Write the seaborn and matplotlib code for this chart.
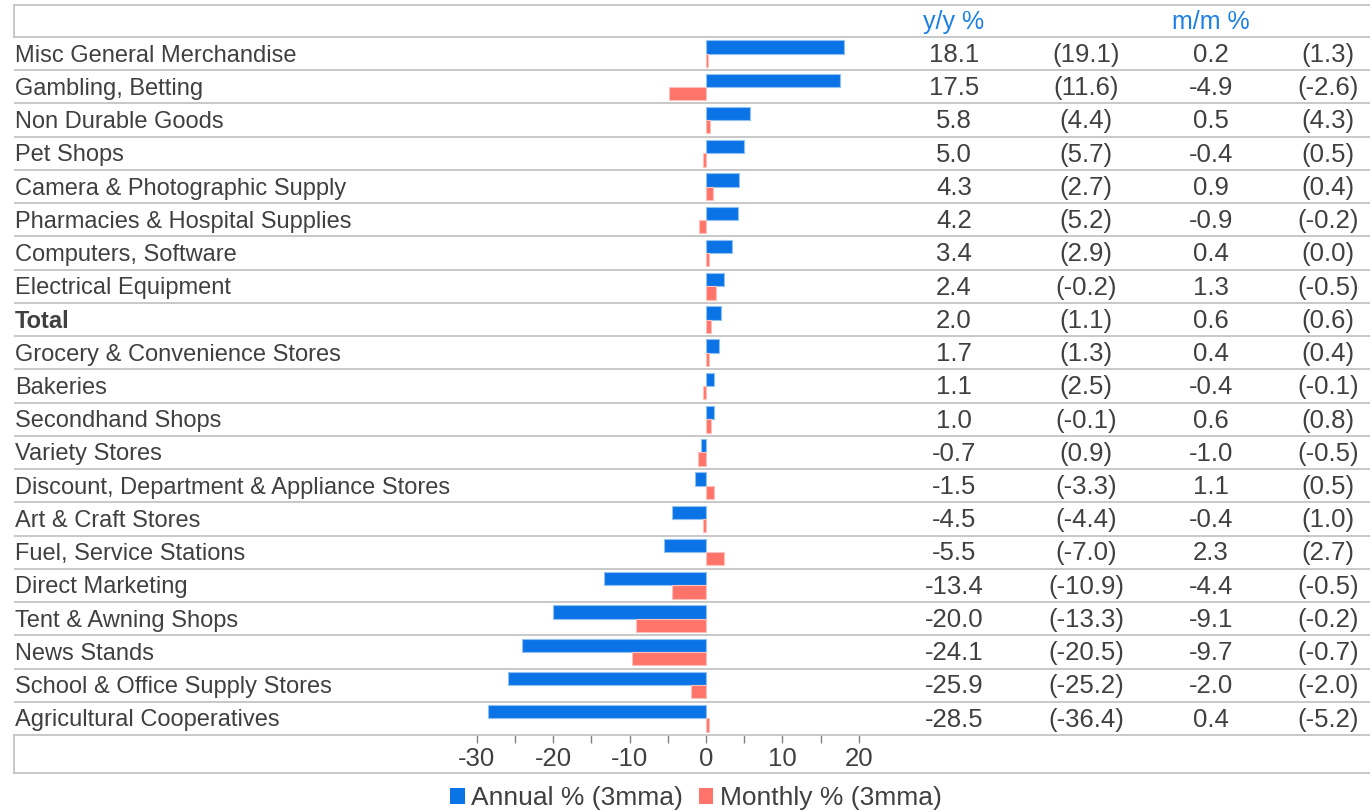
import numpy as np
import pandas as pd
import matplotlib
matplotlib.use("Agg")
import matplotlib.pyplot as plt
import matplotlib.transforms as mtransforms
from matplotlib.lines import Line2D
from matplotlib.patches import Patch
import seaborn as sns

categories = [
    "Misc General Merchandise", "Gambling, Betting", "Non Durable Goods", "Pet Shops",
    "Camera & Photographic Supply", "Pharmacies & Hospital Supplies", "Computers, Software",
    "Electrical Equipment", "Total", "Grocery & Convenience Stores", "Bakeries",
    "Secondhand Shops", "Variety Stores", "Discount, Department & Appliance Stores",
    "Art & Craft Stores", "Fuel, Service Stations", "Direct Marketing",
    "Tent & Awning Shops", "News Stands", "School & Office Supply Stores",
    "Agricultural Cooperatives",
]
annual = [18.1, 17.5, 5.8, 5.0, 4.3, 4.2, 3.4, 2.4, 2.0, 1.7, 1.1, 1.0, -0.7, -1.5,
          -4.5, -5.5, -13.4, -20.0, -24.1, -25.9, -28.5]
annual_prev = [19.1, 11.6, 4.4, 5.7, 2.7, 5.2, 2.9, -0.2, 1.1, 1.3, 2.5, -0.1, 0.9, -3.3,
               -4.4, -7.0, -10.9, -13.3, -20.5, -25.2, -36.4]
monthly = [0.2, -4.9, 0.5, -0.4, 0.9, -0.9, 0.4, 1.3, 0.6, 0.4, -0.4, 0.6, -1.0, 1.1,
           -0.4, 2.3, -4.4, -9.1, -9.7, -2.0, 0.4]
monthly_prev = [1.3, -2.6, 4.3, 0.5, 0.4, -0.2, 0.0, -0.5, 0.6, 0.4, -0.1, 0.8, -0.5, 0.5,
                1.0, 2.7, -0.5, -0.2, -0.7, -2.0, -5.2]
series_names = ["Annual % (3mma)", "Monthly % (3mma)"]
header_labels = ["y/y %", "m/m %"]
x_ticks = [-30, -20, -10, 0, 10, 20]

BLUE = "#0A74E6"
RED = "#FF746A"
TXT = "#404040"
HEAD = "#1A7FE6"
GRID = "#C4C4C4"
FONT = "Liberation Sans"
FS_LAB = 17
FS_TAB = 18.5
FS_TICK = 18.5
FS_LEG = 19
FS_HEAD = 18

W, H = 1370, 811
fig = plt.figure(figsize=(W / 100, H / 100), dpi=100)
plt.rcParams["font.family"] = [FONT, "DejaVu Sans"]

def fx(px):
    return px / W

def fy(py):
    return 1 - py / H

ax_left, ax_right, ax_top, ax_bot = 14, 1370, 37, 735
ax = fig.add_axes([fx(ax_left), fy(ax_bot), fx(ax_right - ax_left), (ax_bot - ax_top) / H])

df = pd.DataFrame({
    "category": categories * 2,
    "value": annual + monthly,
    "series": [series_names[0]] * len(categories) + [series_names[1]] * len(categories),
})

sns.barplot(data=df, y="category", x="value", hue="series", orient="h",
            palette=[BLUE, RED], width=0.8, ax=ax, legend=False, saturation=1,
            order=categories, hue_order=series_names)

for p in ax.patches:
    fc = p.get_facecolor()
    light = tuple(min(1, c + (1 - c) * 0.55) for c in fc[:3])
    p.set_edgecolor(light)
    p.set_linewidth(0.8)

zero_px = 706
scale = 7.64
ax.set_xlim((ax_left - zero_px) / scale, (ax_right - zero_px) / scale)
n = len(categories)
ax.set_ylim(n - 0.5, -0.5)

ax.set_xticks(x_ticks)
ax.set_xticklabels([str(t) for t in x_ticks])
ax.set_xticks(np.arange(-25, 21, 10), minor=True)
ax.tick_params(axis="x", which="both", direction="out", length=5.5, width=1,
               color="#808080", labelsize=FS_TICK, labelcolor=TXT, pad=3.5)
ax.set_yticks([])
ax.set_xlabel("")
ax.set_ylabel("")
for s in ["left", "right"]:
    ax.spines[s].set_visible(False)
for s in ["top", "bottom"]:
    ax.spines[s].set_color(GRID)
    ax.spines[s].set_linewidth(1.3)
ax.set_facecolor("none")

for i in range(n - 1):
    ax.axhline(i + 0.5, color=GRID, lw=1.3, zorder=0)

trans = mtransforms.blended_transform_factory(fig.transFigure, ax.transData)
col_x = [954, 1086, 1211, 1328]
for i, cat in enumerate(categories):
    ax.text(fx(15), i + 0.24, cat, transform=trans, ha="left", va="baseline",
            fontsize=FS_LAB, color=TXT,
            fontweight="bold" if cat == "Total" else "normal")
    vals = [f"{annual[i]:.1f}", f"({annual_prev[i]:.1f})",
            f"{monthly[i]:.1f}", f"({monthly_prev[i]:.1f})"]
    for x, v in zip(col_x, vals):
        ax.text(fx(x), i + 0.25, v, transform=trans, ha="center", va="baseline",
                fontsize=FS_TAB, color=TXT)

# header
for x, t in zip([954, 1211], header_labels):
    fig.text(fx(x), fy(29), t, ha="center", va="baseline", fontsize=FS_HEAD, color=HEAD)

# box lines
def fline(x0, y0, x1, y1):
    fig.add_artist(Line2D([fx(x0), fx(x1)], [fy(y0), fy(y1)], color=GRID, lw=1.3))

fline(14, 5, 1370, 5)
fline(14, 5, 14, 37)
fline(14, 735, 14, 773)
fline(14, 773, 1370, 773)

handles = [Patch(facecolor=BLUE, edgecolor="none"), Patch(facecolor=RED, edgecolor="none")]
fig.legend(handles, series_names, loc="center", bbox_to_anchor=(fx(696), fy(798)),
           ncol=2, frameon=False, fontsize=FS_LEG, labelcolor=TXT, handlelength=0.55,
           handleheight=0.55, handletextpad=0.25, columnspacing=0.6, borderpad=0)

fig.savefig("out.png", dpi=100)
